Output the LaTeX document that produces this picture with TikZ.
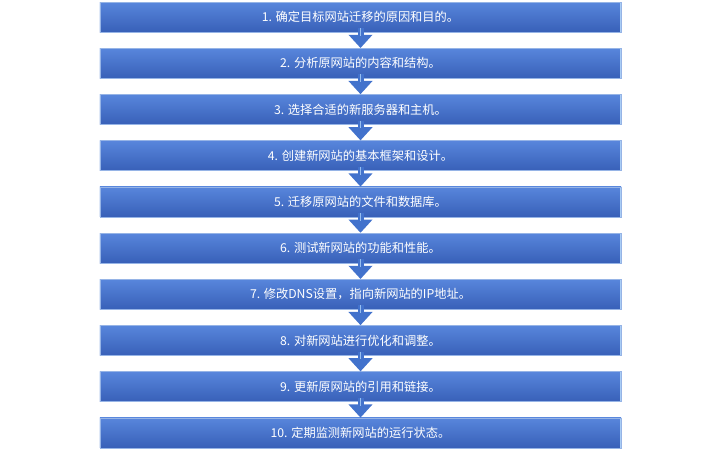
\documentclass[tikz,border=0pt]{standalone}
\usepackage{fontspec}
\usepackage{xcolor}
\newfontfamily\cjk{Noto Sans CJK SC}
\usetikzlibrary{calc, arrows.meta}

\definecolor{boxtop}{RGB}{88,134,220}
\definecolor{boxbottom}{RGB}{56,96,184}
\definecolor{boxedge}{RGB}{150,180,230}
\definecolor{bevel}{RGB}{170,205,245}
\definecolor{arrowblue}{RGB}{66,114,204}
\definecolor{arrowlight}{RGB}{150,190,240}

\tikzset{
  stagebox/.style={rectangle, minimum width=13.025cm, minimum height=0.75cm,
    top color=boxtop, bottom color=boxbottom, draw=boxedge, line width=0.3pt,
    text=white, font=\cjk\fontsize{8.7}{10}\selectfont, inner sep=0pt,
    path picture={
      \draw[bevel, line width=1.2pt]
        ($(path picture bounding box.south west)+(0.06,0.07)$) --
        ($(path picture bounding box.north west)+(0.06,-0.07)$);
      \draw[bevel, line width=1.2pt]
        ($(path picture bounding box.south east)+(-0.22,0.12)$) --
        ($(path picture bounding box.north east)+(-0.22,-0.12)$);
    }},
  downarrow/.style={arrowblue, line width=0.15cm,
    -{Triangle[width=0.58cm, length=0.33cm]}, shorten <=-0.1cm,
    postaction={draw=arrowlight, line width=0.04cm, -, shorten >=0.3cm}}
}

\begin{document}
\begin{tikzpicture}[x=0.025cm, y=-0.025cm]

  % Page frame
  \useasboundingbox (0,0) rectangle (720,450);

  % Draw steps
  \node[stagebox] (s1) at (360.5,17) {1. 确定目标网站迁移的原因和目的。};
  \node[stagebox] (s2) at (360.5,63.2) {2. 分析原网站的内容和结构。};
  \node[stagebox] (s3) at (360.5,109.4) {3. 选择合适的新服务器和主机。};
  \node[stagebox] (s4) at (360.5,155.6) {4. 创建新网站的基本框架和设计。};
  \node[stagebox] (s5) at (360.5,201.8) {5. 迁移原网站的文件和数据库。};
  \node[stagebox] (s6) at (360.5,248) {6. 测试新网站的功能和性能。};
  \node[stagebox] (s7) at (360.5,294.2) {7. 修改DNS设置，指向新网站的IP地址。};
  \node[stagebox] (s8) at (360.5,340.4) {8. 对新网站进行优化和调整。};
  \node[stagebox] (s9) at (360.5,386.6) {9. 更新原网站的引用和链接。};
  \node[stagebox] (s10) at (360.5,432.8) {10. 定期监测新网站的运行状态。};

  % Draw arrows
  \draw[downarrow] (s1.south) -- (s2.north);
  \draw[downarrow] (s2.south) -- (s3.north);
  \draw[downarrow] (s3.south) -- (s4.north);
  \draw[downarrow] (s4.south) -- (s5.north);
  \draw[downarrow] (s5.south) -- (s6.north);
  \draw[downarrow] (s6.south) -- (s7.north);
  \draw[downarrow] (s7.south) -- (s8.north);
  \draw[downarrow] (s8.south) -- (s9.north);
  \draw[downarrow] (s9.south) -- (s10.north);

\end{tikzpicture}
\end{document}
